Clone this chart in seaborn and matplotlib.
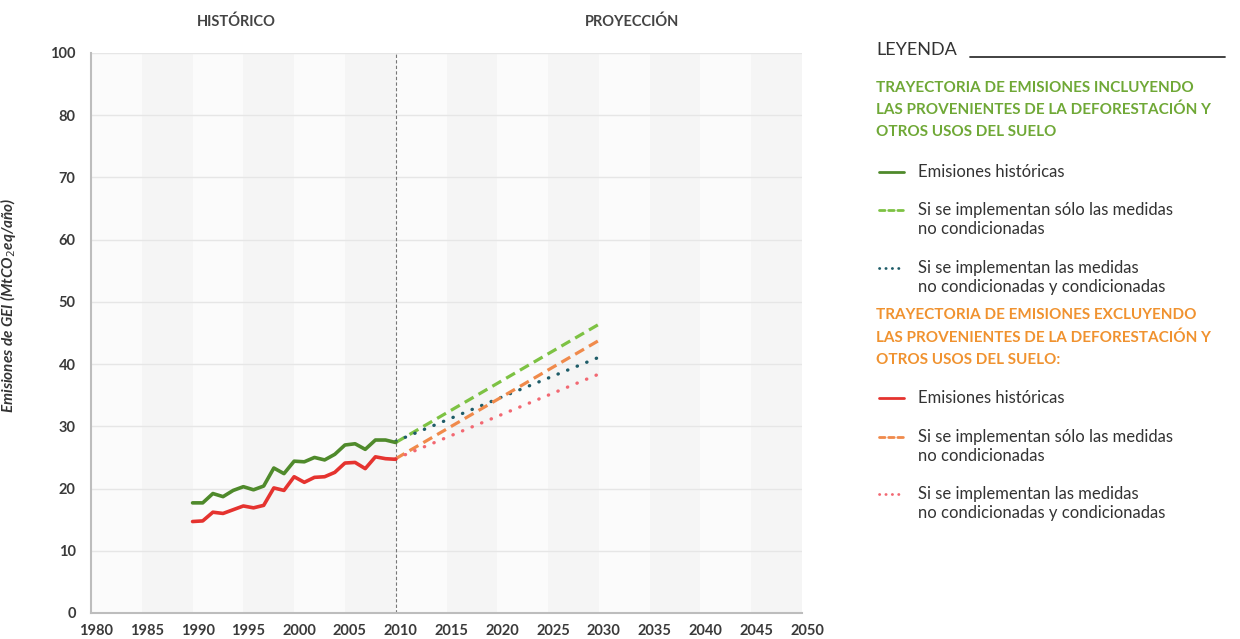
import numpy as np
import pandas as pd
import seaborn as sns
import matplotlib
matplotlib.use('Agg')
import matplotlib.pyplot as plt
from matplotlib.lines import Line2D
from matplotlib.transforms import ScaledTranslation

# historical series (MtCO2eq/year)
years_hist = list(range(1990, 2011))
hist_incl = [17.7, 17.7, 19.2, 18.7, 19.7, 20.3, 19.8, 20.4, 23.3, 22.4, 24.4,
             24.3, 25.0, 24.6, 25.5, 27.0, 27.2, 26.3, 27.8, 27.8, 27.4]
hist_excl = [14.7, 14.8, 16.2, 16.0, 16.6, 17.2, 16.9, 17.3, 20.1, 19.7, 21.9,
             21.0, 21.8, 21.9, 22.6, 24.1, 24.2, 23.2, 25.1, 24.8, 24.7]

# projections
years_proj = [2010, 2020, 2030]
incl_uncond = [27.4, 36.9, 46.4]
incl_cond = [27.6, 34.4, 41.1]
excl_uncond = [24.8, 34.3, 43.8]
excl_cond = [24.8, 31.6, 38.4]

x_ticks = list(range(1980, 2051, 5))
y_ticks = [0, 10, 20, 30, 40, 50, 60, 70, 80, 90]
y_tick_labels = ['0', '10', '20', '30', '40', '50', '60', '70', '80', '100']

sns.set_style("white")
plt.rcParams['font.family'] = ['Lato', 'DejaVu Sans']

fig = plt.figure(figsize=(12.4, 6.39), dpi=100)
ax = fig.add_axes([91 / 1240, 1 - 613 / 639, 711 / 1240, 560 / 639])

# alternating background bands
for i, x0 in enumerate(range(1980, 2050, 5)):
    ax.axvspan(x0, x0 + 5, color='#f5f5f5' if i % 2 else '#fbfbfb', lw=0, zorder=0)
for y in y_ticks[1:]:
    ax.axhline(y, color='#e6e6e6', lw=1, zorder=1)
ax.axvline(2010, color='#777777', lw=0.8, ls=(0, (3, 2)), zorder=2)

col_hist_g = '#4f8a2b'
col_hist_r = '#e5332f'
col_dash_g = '#7dc243'
col_dot_t = '#1e5c68'
col_dash_o = '#f08a4b'
col_dot_p = '#f26872'

dot = (0, (0.1, 3.0))
dash = (0, (3.2, 1.8))

sns.lineplot(x=years_hist, y=hist_incl, ax=ax, color=col_hist_g, lw=2.6, zorder=5)
sns.lineplot(x=years_hist, y=hist_excl, ax=ax, color=col_hist_r, lw=2.6, zorder=5)
sns.lineplot(x=years_proj, y=incl_uncond, ax=ax, color=col_dash_g, lw=2.3, ls=dash, zorder=4)
sns.lineplot(x=years_proj, y=incl_cond, ax=ax, color=col_dot_t, lw=2.4, ls=dot, zorder=4)
sns.lineplot(x=years_proj, y=excl_uncond, ax=ax, color=col_dash_o, lw=2.3, ls=dash, zorder=4)
sns.lineplot(x=years_proj, y=excl_cond, ax=ax, color=col_dot_p, lw=2.4, ls=dot, zorder=4)
for ln in ax.lines:
    if ln.get_color() in (col_dot_t, col_dot_p):
        ln.set_dash_capstyle('round')

ax.set_xlim(1980, 2050)
ax.set_ylim(0, 90)
ax.set_xticks(x_ticks)
ax.set_xticklabels([str(t) for t in x_ticks])
ax.set_yticks(y_ticks)
ax.set_yticklabels(y_tick_labels)
ax.tick_params(axis='both', length=0, labelsize=10.5, labelcolor='#3a3a3a')
ax.tick_params(axis='x', pad=8)
ax.tick_params(axis='y', pad=11)
for lab in ax.get_xticklabels() + ax.get_yticklabels():
    lab.set_fontweight('bold')
for lab in ax.get_xticklabels():
    lab.set_transform(lab.get_transform() + ScaledTranslation(5 / 100, 0, fig.dpi_scale_trans))
for s in ['top', 'right']:
    ax.spines[s].set_visible(False)
for s in ['left', 'bottom']:
    ax.spines[s].set_color('#bdbdbd')
    ax.spines[s].set_linewidth(1.5)
ax.set_xlabel('')
ax.set_ylabel('Emisiones de GEI (MtCO$_2$eq/año)', fontsize=11, style='italic',
              fontweight='bold', color='#333333')
ax.yaxis.set_label_coords((18 - 91) / 711, 0.55)

# section headers
fig.text(236 / 1240, 1 - 22 / 639, 'HISTÓRICO', ha='center', va='center',
         fontsize=10.5, color='#444444', fontweight='bold')
fig.text(632 / 1240, 1 - 22 / 639, 'PROYECCIÓN', ha='center', va='center',
         fontsize=10.5, color='#444444', fontweight='bold')

# legend
def fx(px):
    return px / 1240


def fy(py):
    return 1 - py / 639


fig.text(fx(876), fy(50), 'LEYENDA', fontsize=13, color='#333333', va='center')
fig.add_artist(Line2D([fx(970), fx(1225)], [fy(57), fy(57)], color='#333333', lw=1.3))

green_title = ['TRAYECTORIA DE EMISIONES INCLUYENDO',
               'LAS PROVENIENTES DE LA DEFORESTACIÓN Y',
               'OTROS USOS DEL SUELO']
orange_title = ['TRAYECTORIA DE EMISIONES EXCLUYENDO',
                'LAS PROVENIENTES DE LA DEFORESTACIÓN Y',
                'OTROS USOS DEL SUELO:']
for i, t in enumerate(green_title):
    fig.text(fx(876), fy(88 + 22 * i), t, fontsize=11, color='#6fa836', va='center',
             fontweight='bold')
for i, t in enumerate(orange_title):
    fig.text(fx(876), fy(315 + 22.5 * i), t, fontsize=11, color='#f0922f', va='center',
             fontweight='bold')

entries = [
    (172, col_hist_g, '-', ['Emisiones históricas']),
    (210, col_dash_g, (0, (2, 1.3)), ['Si se implementan sólo las medidas', 'no condicionadas']),
    (268, col_dot_t, (0, (0.1, 2.2)), ['Si se implementan las medidas', 'no condicionadas y condicionadas']),
    (398, col_hist_r, '-', ['Emisiones históricas']),
    (437, col_dash_o, (0, (2, 1.3)), ['Si se implementan sólo las medidas', 'no condicionadas']),
    (494, col_dot_p, (0, (0.1, 2.2)), ['Si se implementan las medidas', 'no condicionadas y condicionadas']),
]
for y0, c, ls, lines in entries:
    fig.add_artist(Line2D([fx(879), fx(904)], [fy(y0), fy(y0)], color=c, lw=2,
                          ls=ls, dash_capstyle='round'))
    for j, t in enumerate(lines):
        fig.text(fx(918), fy(y0 + 19 * j), t, fontsize=12, color='#333333', va='center')

fig.savefig('out.png', dpi=100)
